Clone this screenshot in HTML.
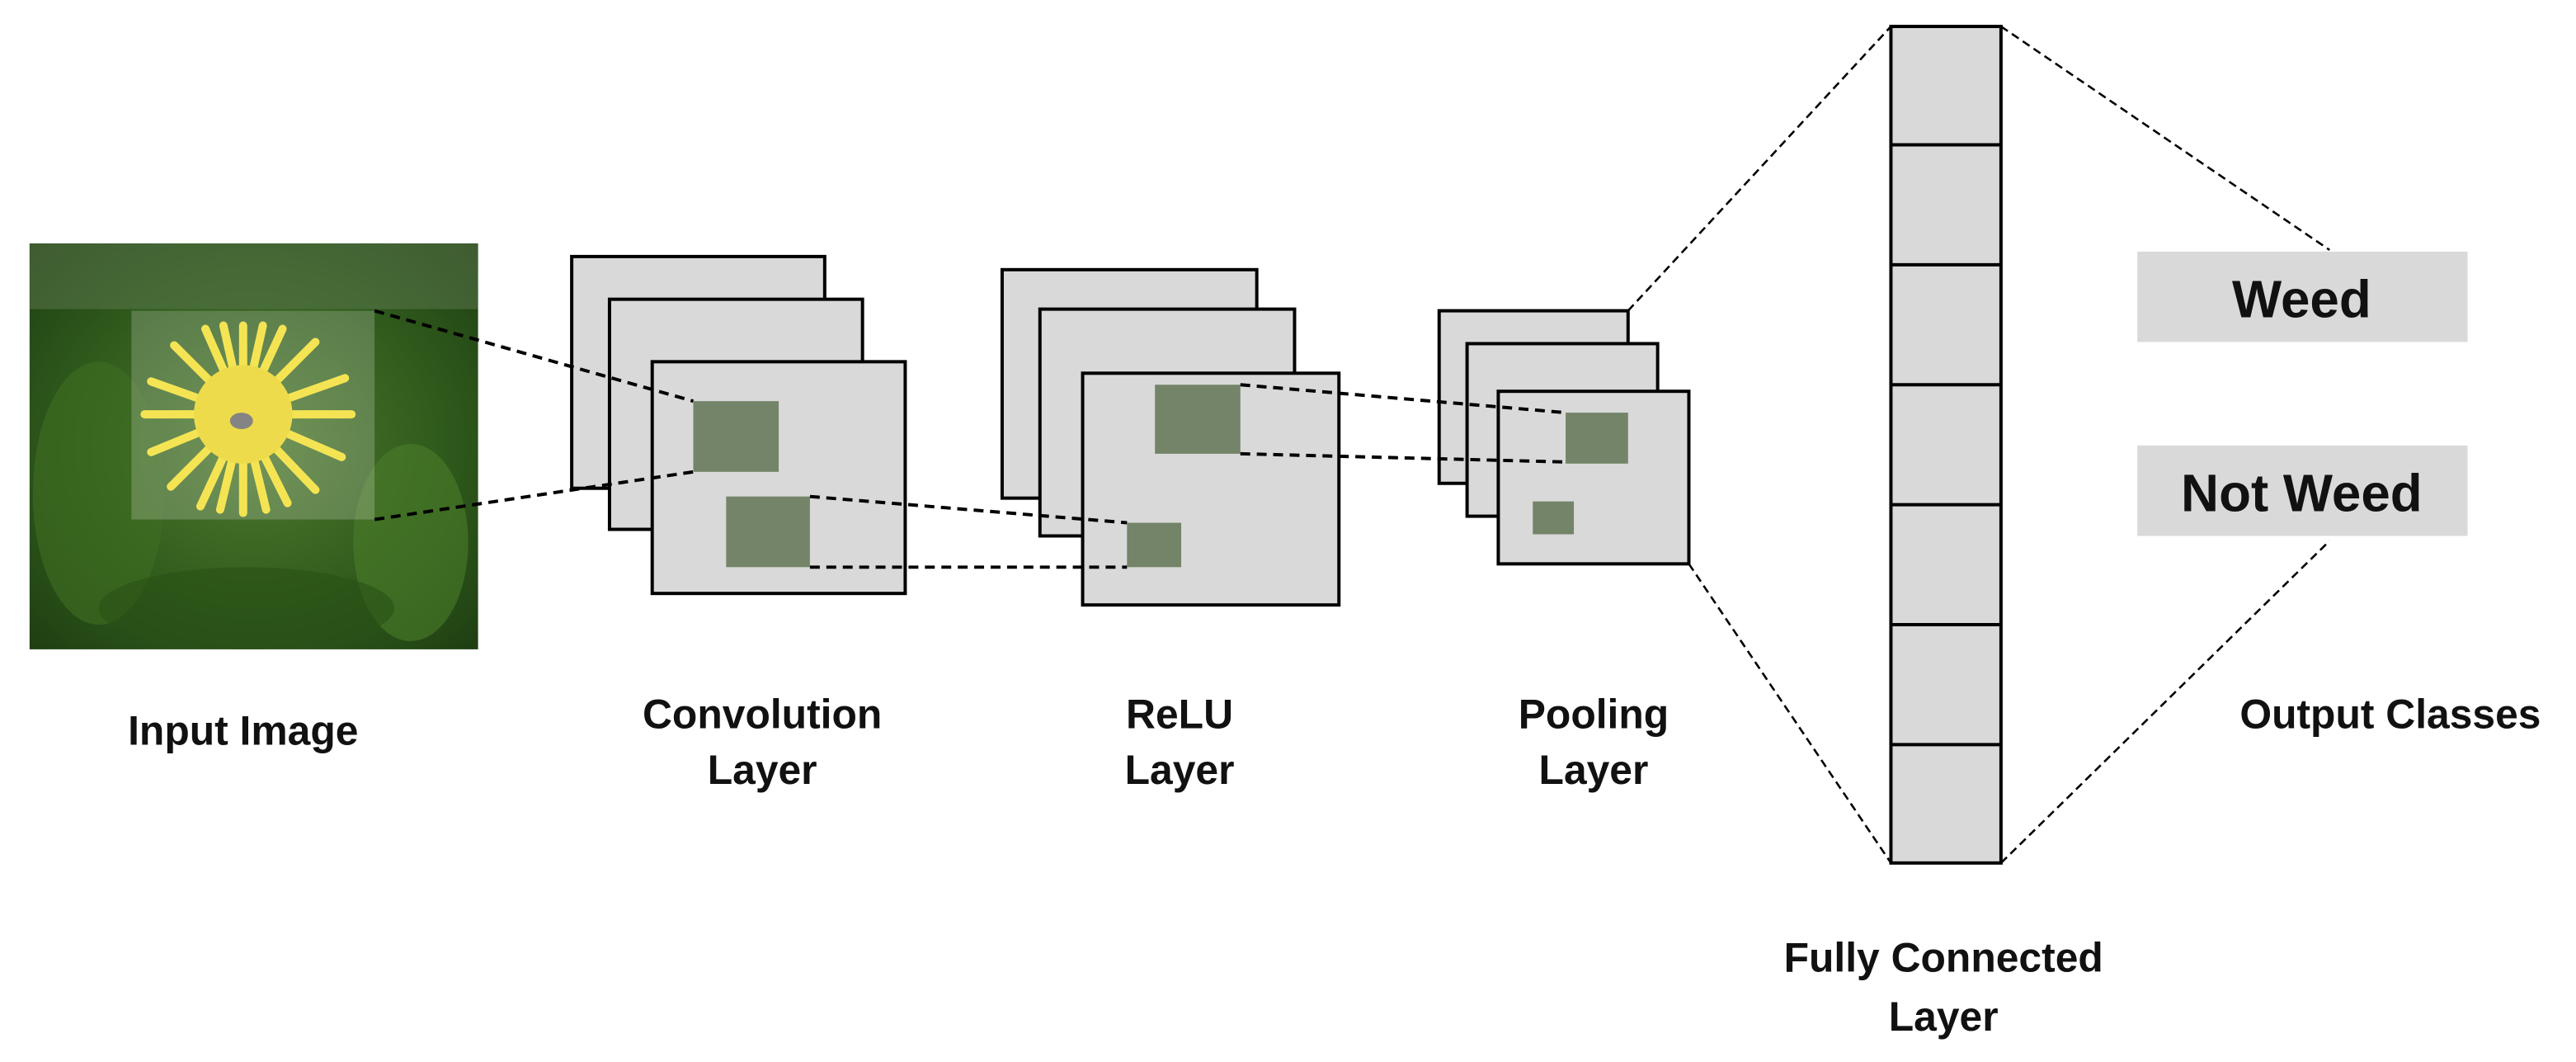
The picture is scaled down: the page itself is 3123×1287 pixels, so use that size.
<!DOCTYPE html>
<html><head><style>html,body{margin:0;padding:0;background:#fff}svg{display:block}</style></head>
<body>
<svg width="3123" height="1287" viewBox="0 0 1568 646" xmlns="http://www.w3.org/2000/svg" font-family="Liberation Sans, sans-serif" font-weight="bold">
<defs>
<radialGradient id="bg" cx="0.5" cy="0.5" r="0.7">
<stop offset="0" stop-color="#4f7a2e"/><stop offset="0.6" stop-color="#2f5a1c"/><stop offset="1" stop-color="#1f3f12"/></radialGradient>
</defs>
<rect width="1568" height="646" fill="#fff"/>
<!-- photo -->
<rect x="18" y="148" width="273" height="247" fill="url(#bg)"/>
<rect x="18" y="148" width="273" height="40" fill="#5d7a50" opacity="0.5"/>
<ellipse cx="60" cy="300" rx="40" ry="80" fill="#3f6e22" opacity="0.6"/>
<ellipse cx="250" cy="330" rx="35" ry="60" fill="#4b7d2a" opacity="0.6"/>
<ellipse cx="150" cy="370" rx="90" ry="25" fill="#2a5015" opacity="0.6"/>
<g stroke="#f2de2a" stroke-width="5" stroke-linecap="round">
<line x1="148" y1="252" x2="148" y2="198"/><line x1="148" y1="252" x2="148" y2="312"/>
<line x1="148" y1="252" x2="88" y2="252"/><line x1="148" y1="252" x2="214" y2="252"/>
<line x1="148" y1="252" x2="106" y2="210"/><line x1="148" y1="252" x2="192" y2="208"/>
<line x1="148" y1="252" x2="104" y2="296"/><line x1="148" y1="252" x2="192" y2="298"/>
<line x1="148" y1="252" x2="125" y2="200"/><line x1="148" y1="252" x2="172" y2="200"/>
<line x1="148" y1="252" x2="122" y2="308"/><line x1="148" y1="252" x2="175" y2="306"/>
<line x1="148" y1="252" x2="92" y2="232"/><line x1="148" y1="252" x2="210" y2="230"/>
<line x1="148" y1="252" x2="92" y2="275"/><line x1="148" y1="252" x2="208" y2="278"/>
<line x1="148" y1="252" x2="136" y2="198"/><line x1="148" y1="252" x2="160" y2="198"/>
<line x1="148" y1="252" x2="134" y2="310"/><line x1="148" y1="252" x2="162" y2="310"/>
</g>
<circle cx="148" cy="252" r="30" fill="#e9d21e"/>
<ellipse cx="147" cy="256" rx="7" ry="5" fill="#666"/>
<rect x="80" y="189" width="148" height="127" fill="#fff" opacity="0.2"/>
<g fill="#d9d9d9" stroke="#000" stroke-width="2">
<rect x="348" y="156" width="154" height="141"/>
<rect x="371" y="182" width="154" height="140"/>
<rect x="397" y="220" width="154" height="141"/>
<rect x="610" y="164" width="155" height="139"/>
<rect x="633" y="188" width="155" height="138"/>
<rect x="659" y="227" width="156" height="141"/>
<rect x="876" y="189" width="115" height="105"/>
<rect x="893" y="209" width="116" height="105"/>
<rect x="912" y="238" width="116" height="105"/>
<rect x="1151" y="16" width="67" height="509"/>
</g>
<g stroke="#000" stroke-width="2">
<line x1="1151" y1="88" x2="1218" y2="88"/><line x1="1151" y1="161" x2="1218" y2="161"/>
<line x1="1151" y1="234" x2="1218" y2="234"/><line x1="1151" y1="307" x2="1218" y2="307"/>
<line x1="1151" y1="380" x2="1218" y2="380"/><line x1="1151" y1="453" x2="1218" y2="453"/>
</g>
<g fill="#748468">
<rect x="422" y="244" width="52" height="43"/>
<rect x="442" y="302" width="51" height="43"/>
<rect x="703" y="234" width="52" height="42"/>
<rect x="686" y="318" width="33" height="27"/>
<rect x="953" y="251" width="38" height="31"/>
<rect x="933" y="305" width="25" height="20"/>
</g>
<g stroke="#000" stroke-width="2" stroke-dasharray="6,4" fill="none">
<line x1="228" y1="189" x2="422" y2="244"/><line x1="228" y1="316" x2="422" y2="287"/>
<line x1="493" y1="302" x2="686" y2="318"/><line x1="493" y1="345" x2="686" y2="345"/>
<line x1="755" y1="234" x2="953" y2="251"/><line x1="755" y1="276" x2="953" y2="281"/>
</g>
<g stroke="#000" stroke-width="1.3" stroke-dasharray="5,3" fill="none">
<line x1="991" y1="189" x2="1151" y2="16"/><line x1="1028" y1="343" x2="1151" y2="525"/>
<line x1="1218" y1="16" x2="1418" y2="152"/><line x1="1218" y1="525" x2="1418" y2="329"/>
</g>
<rect x="1301" y="153" width="201" height="55" fill="#d9d9d9"/>
<rect x="1301" y="271" width="201" height="55" fill="#d9d9d9"/>
<g text-anchor="middle" fill="#111">
<text x="1401" y="193" font-size="32">Weed</text>
<text x="1401" y="311" font-size="32">Not Weed</text>
<g font-size="25">
<text x="148" y="453">Input Image</text>
<text x="464" y="443">Convolution</text><text x="464" y="477">Layer</text>
<text x="718" y="443">ReLU</text><text x="718" y="477">Layer</text>
<text x="970" y="443">Pooling</text><text x="970" y="477">Layer</text>
<text x="1455" y="443">Output Classes</text>
<text x="1183" y="591">Fully Connected</text><text x="1183" y="627">Layer</text>
</g></g>
</svg>
</body></html>
